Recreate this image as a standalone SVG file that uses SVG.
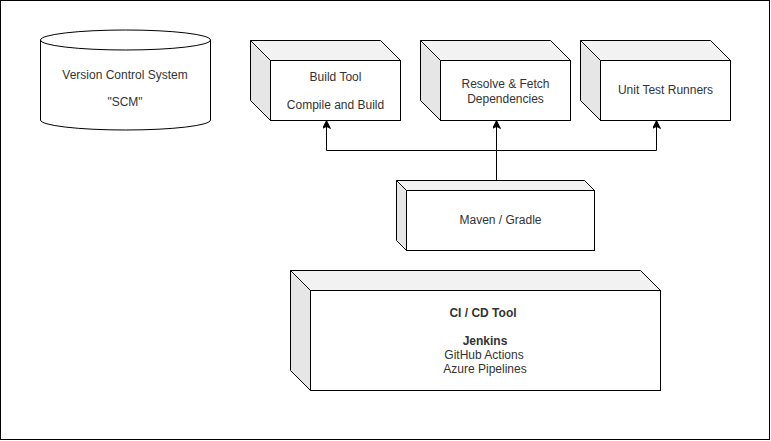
<svg xmlns="http://www.w3.org/2000/svg" width="771" height="441" viewBox="0 0 771 441">
<style>
.t{font-family:"Liberation Sans",Arial,sans-serif;font-size:12px;fill:#333333;text-anchor:middle}
.b{font-weight:bold}
.e{stroke:#000;stroke-width:1;fill:none}
.front{fill:#fff;stroke:#000;stroke-width:1}
.top{fill:#f2f2f2;stroke:#000;stroke-width:1;stroke-linejoin:round}
.side{fill:#e6e6e6;stroke:#000;stroke-width:1;stroke-linejoin:round}
</style>
<defs>
<marker id="arr" viewBox="0 0 10 10" refX="10" refY="5" markerWidth="8" markerHeight="8" markerUnits="userSpaceOnUse" orient="auto">
<path d="M0,0 L10,5 L0,10 L2.5,5 Z" fill="#000" stroke="#000"/>
</marker>
</defs>
<rect x="0.5" y="0.5" width="769" height="439" fill="#fff" stroke="#000"/>

<g id="vcs">
<path d="M40.5,40 A85,10 0 0 1 210.5,40 V120 A85,10 0 0 1 40.5,120 Z" fill="#fff" stroke="#000"/>
<path d="M40.5,40 A85,10 0 0 0 210.5,40" fill="none" stroke="#000"/>
<text class="t" x="125" y="79">Version Control System</text>
<text class="t" x="125" y="106">"SCM"</text>
</g>

<g id="build">
<polygon class="top" points="250.5,40.5 380.5,40.5 400.5,60.5 270.5,60.5"/>
<polygon class="side" points="250.5,40.5 270.5,60.5 270.5,120.5 250.5,100.5"/>
<rect class="front" x="270.5" y="60.5" width="130" height="60"/>
<text class="t" x="335.5" y="81">Build Tool</text>
<text class="t" x="335.5" y="109">Compile and Build</text>
</g>

<g id="resolve">
<polygon class="top" points="420.5,40.5 550.5,40.5 570.5,60.5 440.5,60.5"/>
<polygon class="side" points="420.5,40.5 440.5,60.5 440.5,120.5 420.5,100.5"/>
<rect class="front" x="440.5" y="60.5" width="130" height="60"/>
<text class="t" x="505.5" y="87.5">Resolve &amp; Fetch</text>
<text class="t" x="505.5" y="102.5">Dependencies</text>
</g>

<g id="unittest">
<polygon class="top" points="580.5,40.5 710.5,40.5 730.5,60.5 600.5,60.5"/>
<polygon class="side" points="580.5,40.5 600.5,60.5 600.5,120.5 580.5,100.5"/>
<rect class="front" x="600.5" y="60.5" width="130" height="60"/>
<text class="t" x="665.5" y="94">Unit Test Runners</text>
</g>

<g id="maven">
<polygon class="top" points="396.5,180.5 584.5,180.5 594.5,190.5 406.5,190.5"/>
<polygon class="side" points="396.5,180.5 406.5,190.5 406.5,250.5 396.5,240.5"/>
<rect class="front" x="406.5" y="190.5" width="188" height="60"/>
<text class="t" x="500.5" y="224">Maven / Gradle</text>
</g>

<g id="cicd">
<polygon class="top" points="290.5,270.5 640.5,270.5 660.5,290.5 310.5,290.5"/>
<polygon class="side" points="290.5,270.5 310.5,290.5 310.5,390.5 290.5,370.5"/>
<rect class="front" x="310.5" y="290.5" width="350" height="100"/>
<text class="t b" x="483" y="317">CI / CD Tool</text>
<text class="t b" x="485" y="345">Jenkins</text>
<text class="t" x="484" y="359">GitHub Actions</text>
<text class="t" x="485" y="373">Azure Pipelines</text>
</g>

<g id="connectors">
<path class="e" d="M496.5,180 V120.5" marker-end="url(#arr)"/>
<path class="e" d="M496.5,150.5 H326.5 V120.5" marker-end="url(#arr)"/>
<path class="e" d="M496.5,150.5 H656.5 V120.5" marker-end="url(#arr)"/>
</g>
</svg>
